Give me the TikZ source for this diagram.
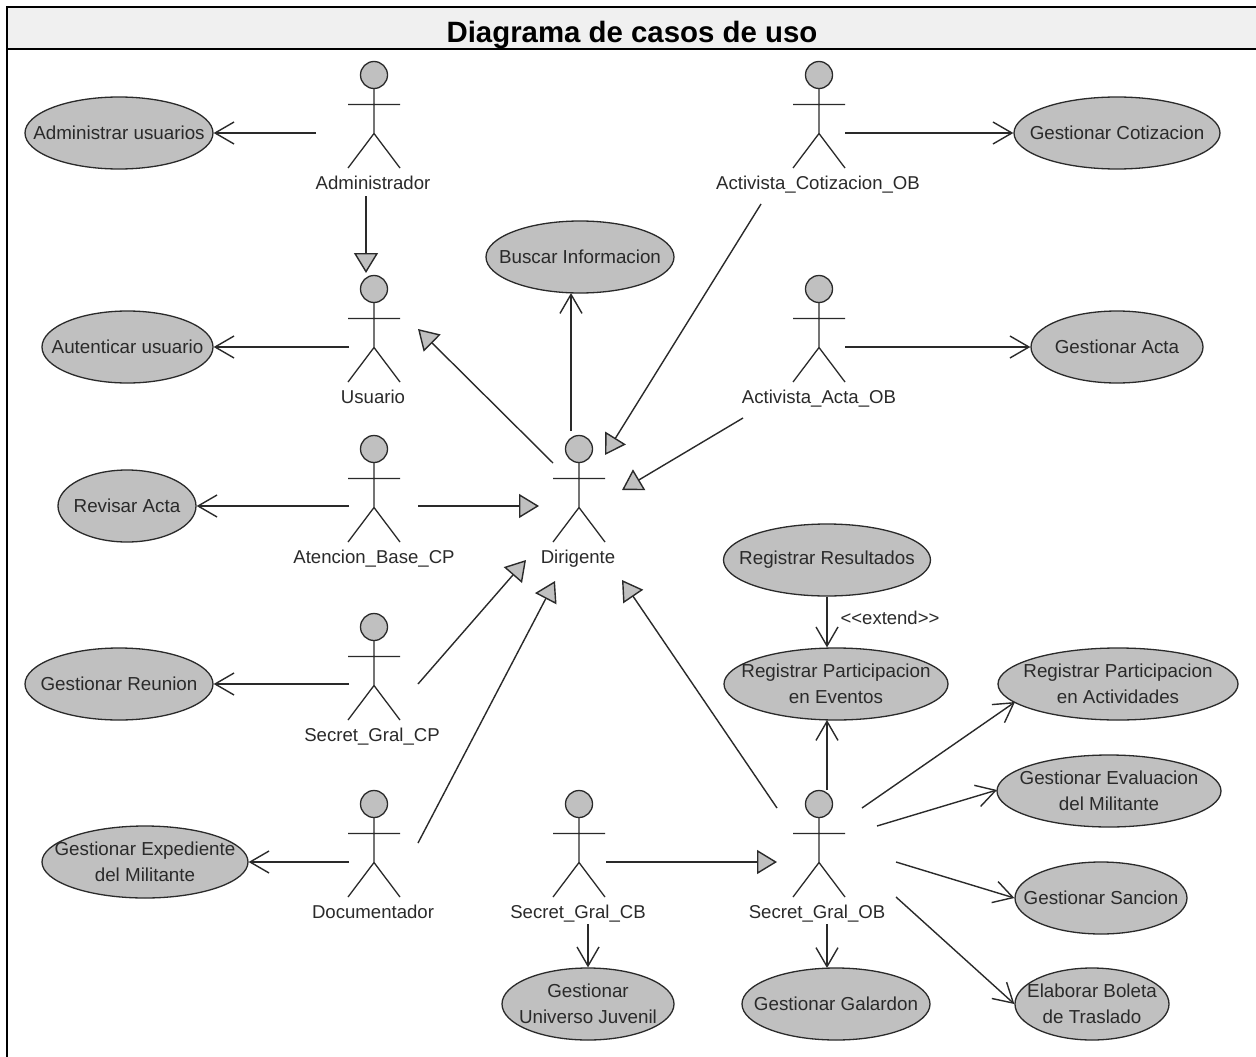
\documentclass[tikz,border=0pt]{standalone}
\usepackage{fontspec}
\setmainfont{Liberation Sans}
\usetikzlibrary{arrows.meta,calc,shapes.geometric}
\definecolor{ugray}{HTML}{C0C0C0}
\definecolor{uline}{HTML}{2A2A2A}
\definecolor{titlebg}{HTML}{F0F0F0}
\tikzset{
  uc/.style={ellipse,draw=uline,fill=ugray,line width=1.3pt,inner sep=0pt,minimum height=72pt},
  uctext/.style={inner sep=0pt,align=center,font=\fontsize{18.8}{26}\selectfont,text=uline},
  actorpt/.style={inner sep=0pt,minimum size=0pt},
  actorlabel/.style={inner sep=0pt,anchor=base,font=\fontsize{18.6}{22}\selectfont,text=uline},
  assoc/.style={draw=uline,line width=1.4pt,-{Straight Barb[length=19pt,width=22pt,line width=1.4pt]}},
  gen/.style={draw=uline,line width=1.4pt,-{Triangle[length=20pt,width=24pt,fill=ugray,line width=1.4pt]}},
}
\newcommand{\actorfig}[5]{% name, x, y, label, label x shift
  \node[actorpt] (#1) at (#2,#3) {};
  \filldraw[fill=ugray,draw=uline,line width=1.3pt] (#1) circle (13.5pt);
  \draw[uline,line width=1.3pt] ($(#1)+(0,13.5)$) -- ($(#1)+(0,58.5)$) -- ($(#1)+(-26,93)$)
    ($(#1)+(0,58.5)$) -- ($(#1)+(26,93)$) ($(#1)+(-26,29.5)$) -- ($(#1)+(26,29.5)$);
  \node[actorlabel] (#1lab) at ($(#1)+(#5,114)$) {#4};
}
\newcommand{\ucase}[5]{% name, x, y, width, text
  \node[uc,minimum width=#4pt] (#1) at (#2,#3) {};
  \node[uctext] (#1txt) at (#1) {#5};
}
\begin{document}
\begin{tikzpicture}[x=1pt,y=-1pt]
\useasboundingbox (0,0) rectangle (1256,1057);
\fill[white] (0,0) rectangle (1256,1057);
\fill[titlebg] (7,7) rectangle (1256,49);
\draw[black,line width=2.2pt] (7,1057) -- (7,7) -- (1256,7);
\draw[black,line width=2.2pt] (7,49) -- (1256,49);
\node[inner sep=0pt,anchor=base,font=\bfseries\fontsize{29.4}{34}\selectfont] (title) at (632,43) {Diagrama de casos de uso};

% actors
\actorfig{adm}{374}{75}{Administrador}{-1}
\actorfig{usu}{374}{289}{Usuario}{-1}
\actorfig{ate}{374}{449}{Atencion\_Base\_CP}{0}
\actorfig{dir}{579}{449}{Dirigente}{-1}
\actorfig{scp}{374}{627}{Secret\_Gral\_CP}{-2}
\actorfig{doc}{374}{804}{Documentador}{-1}
\actorfig{scb}{579}{804}{Secret\_Gral\_CB}{-1}
\actorfig{sob}{819}{804}{Secret\_Gral\_OB}{-2}
\actorfig{aco}{819}{75}{Activista\_Cotizacion\_OB}{-1}
\actorfig{aac}{819}{289}{Activista\_Acta\_OB}{0}

% use cases
\ucase{uAdm}{119}{133}{188}{Administrar usuarios}
\ucase{uAut}{127.5}{347}{171}{Autenticar usuario}
\ucase{uRev}{127}{506}{138}{Revisar Acta}
\ucase{uReu}{119}{684}{188}{Gestionar Reunion}
\ucase{uExp}{145}{862}{206}{Gestionar Expediente\\del Militante}
\ucase{uBus}{580}{257}{188}{Buscar Informacion}
\ucase{uCot}{1117}{133}{206}{Gestionar Cotizacion}
\ucase{uAct}{1117}{347}{172}{Gestionar Acta}
\ucase{uRes}{827}{560}{207}{Registrar Resultados}
\ucase{uEve}{836}{684}{224}{Registrar Participacion\\en Eventos}
\ucase{uPar}{1118}{684}{240}{Registrar Participacion\\en Actividades}
\ucase{uEva}{1109}{791}{224}{Gestionar Evaluacion\\del Militante}
\ucase{uSan}{1101}{898}{172}{Gestionar Sancion}
\ucase{uBol}{1092}{1004}{154}{Elaborar Boleta\\de Traslado}
\ucase{uGal}{836}{1004}{188}{Gestionar Galardon}
\ucase{uUni}{588}{1004}{172}{Gestionar\\Universo Juvenil}

% associations
\draw[assoc] ($(adm)+(-58,58)$) -- (uAdm.east);
\draw[assoc] ($(usu)+(-25,58)$) -- (uAut.east);
\draw[assoc] ($(ate)+(-25,57)$) -- (uRev.east);
\draw[assoc] ($(scp)+(-25,57)$) -- (uReu.east);
\draw[assoc] ($(doc)+(-25,58)$) -- (uExp.east);
\draw[assoc] ($(dir)+(-8,-18)$) -- ($(uBus)+(-9,36)$);
\draw[assoc] ($(aco)+(26,58)$) -- (uCot.west);
\draw[assoc] ($(aac)+(26,58)$) -- (uAct.west);
\draw[assoc] (uRes.south) -- (uRes.south |- uEve.north);
\draw[assoc] ($(sob)+(8,-14)$) -- ($(uEve)+(-9,36)$);
\draw[assoc] ($(sob)+(43,4)$) -- ($(uPar)+(-103,18)$);
\draw[assoc] ($(sob)+(58,22)$) -- ($(uEva)+(-112,-1)$);
\draw[assoc] ($(sob)+(77,58)$) -- (uSan.west);
\draw[assoc] ($(sob)+(77,93)$) -- (uBol.west);
\draw[assoc] ($(sob)+(8,120)$) -- ($(uGal)+(-9,-36)$);
\draw[assoc] ($(scb)+(9,120)$) -- (uUni.north);

% generalizations
\draw[gen] ($(adm)+(-8,121)$) -- ($(usu)+(-8,-16)$);
\draw[gen] ($(dir)+(-26,14)$) -- ($(usu)+(44,40)$);
\draw[gen] ($(ate)+(44,57)$) -- ($(dir)+(-40,57)$);
\draw[gen] ($(scp)+(44,57)$) -- ($(dir)+(-53,111)$);
\draw[gen] ($(doc)+(44,39)$) -- ($(dir)+(-24,132)$);
\draw[gen] ($(aco)+(-58,129)$) -- ($(dir)+(26,6)$);
\draw[gen] ($(aac)+(-76,129)$) -- ($(dir)+(43,41)$);
\draw[gen] ($(sob)+(-42,4)$) -- ($(dir)+(43,131)$);
\draw[gen] ($(scb)+(27,58)$) -- ($(sob)+(-42,58)$);

\node[inner sep=0pt,font=\fontsize{18.5}{22}\selectfont,text=uline] (ext) at (890,618) {<{}<extend>{}>};
\end{tikzpicture}
\end{document}
